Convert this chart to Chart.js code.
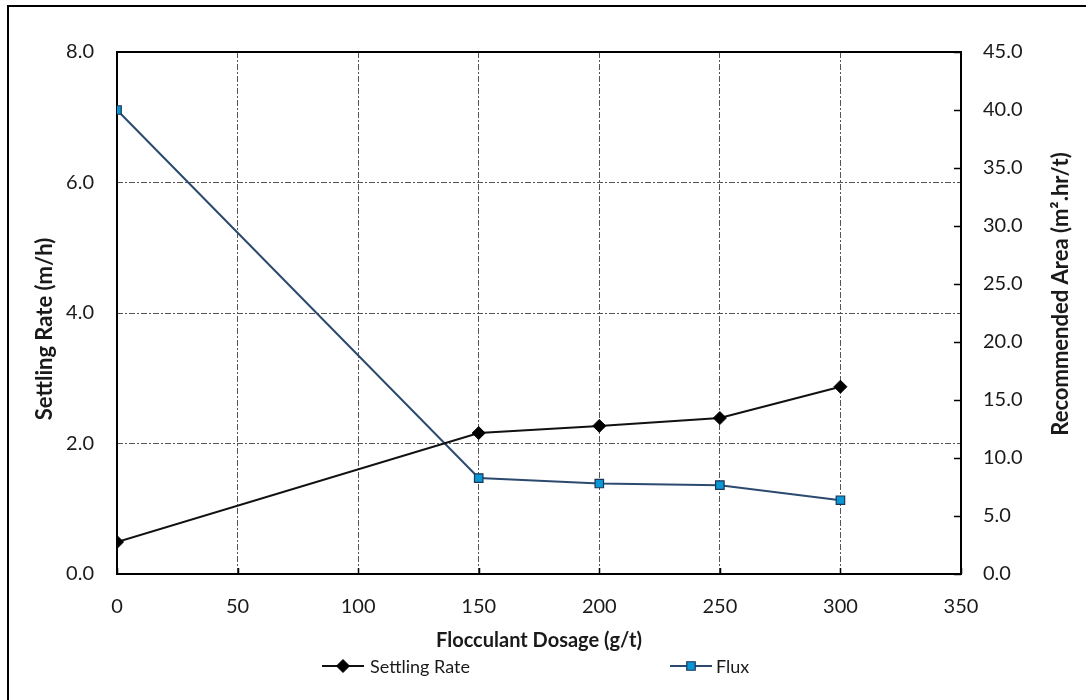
<!DOCTYPE html>
<html>
<head>
<meta charset="utf-8">
<script src="https://cdn.jsdelivr.net/npm/chart.js@4.4.1/dist/chart.umd.min.js"></script>
<style>
  html, body { margin: 0; padding: 0; background: #fff; }
  #wrap { width: 1086px; height: 700px; position: relative; }
</style>
</head>
<body>
<div id="wrap"><canvas id="c" width="1086" height="700"></canvas></div>
<script>
// Flocculant dosage (g/t)
const dosage = [0, 150, 200, 250, 300];
// Settling rate (m/h), left axis
const settlingRate = [0.49, 2.16, 2.27, 2.39, 2.87];
// Recommended area / flux (m².hr/t), right axis
const flux = [40.0, 8.27, 7.8, 7.66, 6.36];

const xTicks = [0, 50, 100, 150, 200, 250, 300, 350];
const leftTicks = [0, 2, 4, 6, 8];
const rightTicks = [0, 5, 10, 15, 20, 25, 30, 35, 40, 45];

const xTitle = 'Flocculant Dosage (g/t)';
const leftTitle = 'Settling Rate (m/h)';
const rightTitle = 'Recommended Area (m\u00B2.hr/t)';

const FONT = 'Lato, "Open Sans", sans-serif';
const TEXT = '#1a1a1a';

const pts = (ys) => dosage.map((x, i) => ({ x: x, y: ys[i] }));

// Frame, plot box, inward tick marks, vertical axis titles and the legend
const decor = {
  id: 'decor',
  beforeDatasetsDraw(chart) {
    const { ctx, chartArea: a, scales } = chart;
    ctx.save();
    ctx.strokeStyle = '#000';
    ctx.lineWidth = 2;
    // outer frame (left and top edges)
    ctx.beginPath();
    ctx.moveTo(8, 700); ctx.lineTo(8, 6); ctx.lineTo(1086, 6);
    ctx.stroke();
    // plot box
    ctx.strokeRect(a.left, a.top, a.right - a.left, a.bottom - a.top);
    // inward ticks on x axis
    ctx.lineWidth = 1.5;
    ctx.beginPath();
    xTicks.forEach(v => {
      const px = Math.round(scales.x.getPixelForValue(v)) + 0.5;
      ctx.moveTo(px, a.bottom); ctx.lineTo(px, a.bottom - 6);
    });
    // inward ticks on right axis
    rightTicks.forEach(v => {
      const py = Math.round(scales.y2.getPixelForValue(v)) + 0.5;
      ctx.moveTo(a.right, py); ctx.lineTo(a.right - 7, py);
    });
    ctx.stroke();
    ctx.restore();
  },
  afterDraw(chart) {
    const { ctx } = chart;
    ctx.save();
    // vertical axis titles, both reading bottom to top
    ctx.fillStyle = TEXT;
    ctx.font = 'bold 22px ' + FONT;
    ctx.textAlign = 'center';
    ctx.textBaseline = 'middle';
    [[leftTitle, 45, 329], [rightTitle, 1061, 294]].forEach(([t, x, y]) => {
      ctx.save();
      ctx.translate(x, y);
      ctx.rotate(-Math.PI / 2);
      ctx.fillText(t, 0, 0);
      ctx.restore();
    });

    // legend
    const ly = 666;
    const items = [
      { ds: chart.data.datasets[0], x0: 322, x1: 364, tx: 370 },
      { ds: chart.data.datasets[1], x0: 670, x1: 712, tx: 716 }
    ];
    items.forEach(it => {
      const ds = it.ds;
      ctx.strokeStyle = ds.borderColor;
      ctx.lineWidth = 2;
      ctx.beginPath();
      ctx.moveTo(it.x0, ly); ctx.lineTo(it.x1, ly);
      ctx.stroke();
      ctx.fillStyle = ds.pointBackgroundColor;
      ctx.strokeStyle = ds.pointBorderColor;
      ctx.lineWidth = ds.pointBorderWidth;
      Chart.helpers.drawPoint(ctx, {
        pointStyle: ds.pointStyle,
        radius: ds.pointRadius,
        borderWidth: ds.pointBorderWidth,
        rotation: 0
      }, (it.x0 + it.x1) / 2, ly);
      ctx.fillStyle = TEXT;
      ctx.font = '18px ' + FONT;
      ctx.textAlign = 'left';
      ctx.textBaseline = 'middle';
      ctx.fillText(ds.label, it.tx, ly + 1);
    });
    ctx.restore();
  }
};

new Chart(document.getElementById('c'), {
  type: 'line',
  data: {
    datasets: [
      {
        label: 'Settling Rate',
        data: pts(settlingRate),
        yAxisID: 'y',
        borderColor: '#111111',
        borderWidth: 2,
        pointStyle: 'rectRot',
        pointRadius: 6.5,
        pointBackgroundColor: '#000000',
        pointBorderColor: '#000000',
        pointBorderWidth: 1,
        tension: 0
      },
      {
        label: 'Flux',
        data: pts(flux),
        yAxisID: 'y2',
        borderColor: '#2b4a6e',
        borderWidth: 2,
        pointStyle: 'rect',
        pointRadius: 6,
        pointBackgroundColor: '#0a97d6',
        pointBorderColor: '#1d3557',
        pointBorderWidth: 1.2,
        tension: 0
      }
    ]
  },
  options: {
    responsive: false,
    animation: false,
    layout: { padding: { top: 52, left: 0, right: 0, bottom: 0 } },
    plugins: { legend: { display: false }, tooltip: { enabled: false } },
    scales: {
      x: {
        type: 'linear',
        min: 0, max: 350,
        afterBuildTicks: s => { s.ticks = xTicks.map(v => ({ value: v })); },
        afterFit: s => { s.height = 126; },
        grid: { color: '#555', lineWidth: 1, drawTicks: false },
        border: { display: false, dash: [6, 2, 2, 2] },
        ticks: { padding: 21, color: TEXT, font: { family: FONT, size: 20 } },
        title: {
          display: true, text: xTitle, color: TEXT,
          font: { family: FONT, size: 20, weight: 'bold' },
          padding: { top: 0, bottom: 47 }
        }
      },
      y: {
        position: 'left',
        min: 0, max: 8,
        afterBuildTicks: s => { s.ticks = leftTicks.map(v => ({ value: v })); },
        afterFit: s => { s.width = 117; },
        grid: { color: '#555', lineWidth: 1, drawTicks: false },
        border: { display: false, dash: [6, 2, 2, 2] },
        ticks: { padding: 23, color: TEXT, font: { family: FONT, size: 20 },
                 callback: v => Number(v).toFixed(1) }
      },
      y2: {
        position: 'right',
        min: 0, max: 45,
        afterBuildTicks: s => { s.ticks = rightTicks.map(v => ({ value: v })); },
        afterFit: s => { s.width = 125; },
        grid: { drawOnChartArea: false, drawTicks: false },
        border: { display: false },
        ticks: { padding: 22, color: TEXT, font: { family: FONT, size: 20 },
                 callback: v => Number(v).toFixed(1) }
      }
    }
  },
  plugins: [decor]
});
</script>
</body>
</html>
